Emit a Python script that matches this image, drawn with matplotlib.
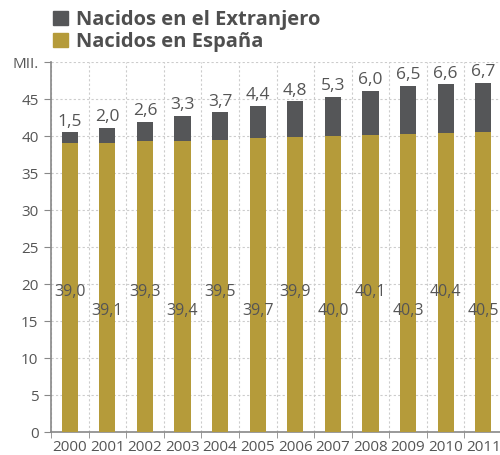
import matplotlib.pyplot as plt
from matplotlib.patches import Patch
from matplotlib.ticker import FixedLocator

plt.rcParams['font.family'] = ['Open Sans', 'DejaVu Sans']

years = ['2000', '2001', '2002', '2003', '2004', '2005',
         '2006', '2007', '2008', '2009', '2010', '2011']
espana = [39.0, 39.1, 39.3, 39.4, 39.5, 39.7, 39.9, 40.0, 40.1, 40.3, 40.4, 40.5]
extranjero = [1.5, 2.0, 2.6, 3.3, 3.7, 4.4, 4.8, 5.3, 6.0, 6.5, 6.6, 6.7]

gold = '#b59b3a'
dark = '#555658'
txt = '#555555'
fmt = lambda v: f'{v:.1f}'.replace('.', ',')

fig = plt.figure(figsize=(5.0, 4.55), dpi=100)
ax = fig.add_axes([0.102, 0.0505, 0.902, 0.813])

x = list(range(len(years)))
ax.bar(x, espana, width=0.43, color=gold, zorder=3)
ax.bar(x, extranjero, width=0.43, bottom=espana, color=dark, zorder=3)

for i in x:
    top = espana[i] + extranjero[i]
    ax.annotate(fmt(extranjero[i]), (i, top), xytext=(0, 2), textcoords='offset points',
                ha='center', va='bottom', fontsize=12.5, color=txt, zorder=4)
    ly = 18.9 if i % 2 == 0 else 16.3
    ax.text(i, ly, fmt(espana[i]), ha='center', va='center', fontsize=11.5, color=txt, zorder=4)

ax.set_xlim(-0.5, 11.5)
ax.set_ylim(0, 50)
ax.set_yticks(range(0, 51, 5))
ax.set_yticklabels([str(v) for v in range(0, 50, 5)] + ['MII.'])
ax.set_xticks(x)
ax.set_xticklabels(years)
ax.xaxis.set_minor_locator(FixedLocator([i + 0.5 for i in range(-1, 12)]))
ax.tick_params(axis='x', which='major', length=0, pad=6, labelsize=11, colors=txt)
ax.tick_params(axis='x', which='minor', length=4, color='#888888')
ax.tick_params(axis='y', length=5, color='#888888', labelsize=11, pad=4)
ax.tick_params(axis='y', colors='#888888', labelcolor=txt)

ax.grid(axis='y', which='major', linestyle=(0, (2, 2)), color='#cccccc', linewidth=0.8, zorder=0)
ax.grid(axis='x', which='minor', linestyle=(0, (2, 2)), color='#cccccc', linewidth=0.8, zorder=0)
ax.grid(axis='x', which='major', visible=False)

for s in ['top', 'right']:
    ax.spines[s].set_visible(False)
for s in ['left', 'bottom']:
    ax.spines[s].set_color('#888888')
    ax.spines[s].set_linewidth(1.2)

handles = [Patch(color=dark, label='Nacidos en el Extranjero'),
           Patch(color=gold, label='Nacidos en España')]
leg = fig.legend(handles=handles, loc='upper left', bbox_to_anchor=(0.069, 1.018),
                 frameon=False, handlelength=0.75, handleheight=0.75, handletextpad=0.4,
                 labelspacing=0.1, prop={'size': 14.5, 'weight': 'bold'})
for t in leg.get_texts():
    t.set_color('#4f4f4f')

fig.savefig('out.png', dpi=100)
